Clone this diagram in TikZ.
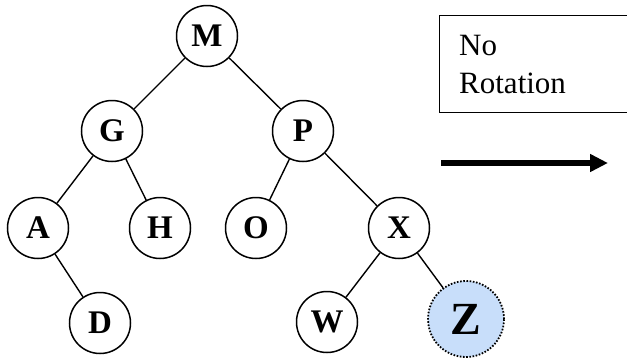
\documentclass[tikz,border=0pt]{standalone}
\usepackage{fontspec}
\setmainfont{Liberation Serif}
\usetikzlibrary{arrows.meta}
\definecolor{zfill}{RGB}{200,222,250}
\tikzset{
  tnode/.style={circle, draw, line width=1.5pt, minimum size=61pt, inner sep=0pt,
    font=\fontsize{33}{35}\selectfont\bfseries},
  znode/.style={tnode, minimum size=76pt, fill=zfill, dash pattern=on 1.6pt off 1.6pt,
    line width=1.8pt, font=\fontsize{46}{48}\selectfont\bfseries},
  edge/.style={line width=1.4pt},
  boxline/.style={line width=1pt},
  bigarrow/.style={line width=5.5pt, -{Triangle[length=18pt,width=17pt]}},
  note/.style={align=left, anchor=north west, inner sep=0pt,
    font=\fontsize{31}{38}\selectfont}
}
\begin{document}
\begin{tikzpicture}[x=1pt,y=-1pt]
\useasboundingbox (0,0) rectangle (627,360);
\node[tnode] (M) at (207,36) {M};
\node[tnode] (G) at (112,131) {G};
\node[tnode] (P) at (303,131) {P};
\node[tnode] (A) at (38,228) {A};
\node[tnode] (H) at (160,228) {H};
\node[tnode] (O) at (256,228) {O};
\node[tnode] (X) at (399,228) {X};
\node[tnode] (D) at (100,323) {D};
\node[tnode] (W) at (327,322) {W};
\node[znode] (Z) at (466,319) {Z};
\draw[edge] (M) -- (G);
\draw[edge] (M) -- (P);
\draw[edge] (G) -- (A);
\draw[edge] (G) -- (H);
\draw[edge] (P) -- (O);
\draw[edge] (P) -- (X);
\draw[edge] (A) -- (D);
\draw[edge] (X) -- (W);
\draw[edge] (X) -- (Z);
\draw[boxline] (628,15) -- (439,15) -- (439,112) -- (628,112);
\node[note] (txt) at (459,35) {No\\Rotation};
\coordinate (a1) at (441,163);
\coordinate (a2) at (608,163);
\draw[bigarrow] (a1) -- (a2);
\end{tikzpicture}
\end{document}
